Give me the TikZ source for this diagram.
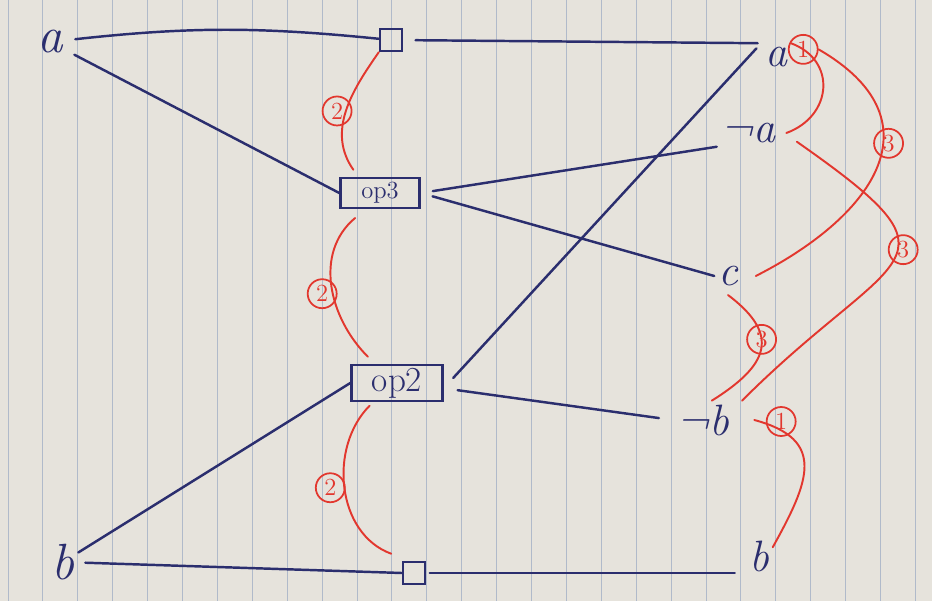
\documentclass[tikz,border=0pt]{standalone}
\definecolor{ink}{HTML}{2B2E6E}
\definecolor{redpen}{HTML}{E2372E}
\definecolor{paper}{HTML}{E6E3DC}
\definecolor{rulecol}{HTML}{B0BACA}
\begin{document}
\begin{tikzpicture}[x=0.02cm,y=0.02cm,wire/.style={ink,line width=1.4pt,line cap=round},pairarc/.style={redpen,line width=1.1pt,line cap=round},lbl/.style={text=ink,font=\fontsize{25}{25}\selectfont\itshape,inner sep=2pt},biglbl/.style={lbl,font=\fontsize{29}{29}\selectfont\itshape},opbox/.style={draw=ink,line width=1.4pt,inner sep=1pt,text=ink},smallsq/.style={draw=ink,line width=1.4pt,minimum size=0.44cm,inner sep=0pt},num/.style={circle,draw=redpen,text=redpen,line width=1pt,inner sep=0pt,minimum size=0.58cm,font=\fontsize{14}{14}\selectfont}]
\useasboundingbox (0,0) rectangle (932,601); \fill[paper] (0,0) rectangle (932,601);
\foreach \k in {0,...,26} \draw[rulecol,line width=0.5pt] ({8+34.9*\k},0) -- ({8+34.9*\k},601);
\node[biglbl] (aL) at (50,559) {a}; \node[biglbl] (bL) at (63,39) {b};
\node[smallsq] (sqT) at (391,561) {}; \node[smallsq] (sqB) at (414,28) {};
\node[opbox,minimum width=1.58cm,minimum height=0.6cm,font=\fontsize{14}{14}\selectfont] (op3) at (380,408) {op3};
\node[opbox,minimum width=1.82cm,minimum height=0.72cm,font=\fontsize{20}{20}\selectfont] (op2) at (397,218) {op2};
\node[lbl] (aR) at (776,544) {a}; \node[lbl] (naR) at (748,468) {¬a}; \node[lbl] (cR) at (728,325) {c}; \node[lbl] (nbR) at (703,181) {¬b}; \node[lbl] (bR) at (759,45) {b};
\draw[wire,shorten <=5pt] (aL) to[bend left=6] (sqT); \draw[wire,shorten <=5pt] (aL) -- (op3.west);
\draw[wire,shorten <=7pt,shorten >=2pt] (sqT) -- (aR.north west);
\draw[wire,shorten <=7pt] (op3.east) -- (naR.south west); \draw[wire,shorten <=7pt] (op3.east) -- (cR.west);
\draw[wire,shorten <=8pt,shorten >=4pt] ([yshift=-3pt]op2.east) -- (aR.north west); \draw[wire,shorten <=8pt,shorten >=8pt] ([yshift=-3pt]op2.east) -- (nbR.west);
\draw[wire] (op2.west) -- (bL); \draw[wire,shorten <=4pt] (bL) -- (sqB.west); \draw[wire,shorten <=2pt,shorten >=6pt] (sqB.east) -- (sqB.east -| bR.west);
\draw[pairarc] (sqT.south west) to[out=235,in=125] node[num,pos=.5,xshift=-5pt] {2} ([shift={(8pt,4pt)}]op3.north west);
\draw[pairarc] ([shift={(9pt,-5pt)}]op3.south west) to[out=220,in=135] node[num,pos=.55,xshift=-6pt] {2} ([shift={(10pt,4pt)}]op2.north west);
\draw[pairarc] ([shift={(11pt,-2pt)}]op2.south west) to[out=225,in=160] node[num,pos=.5,xshift=-8pt] {2} ([shift={(-6pt,4pt)}]sqB.north west);
\draw[pairarc] (aR.north east) to[out=-20,in=20,looseness=1.4] node[num,pos=.1] (one) {1} ([xshift=4pt]naR.east);
\draw[pairarc] (one.east) to[out=-30,in=27,looseness=1.5] node[num,pos=.41,xshift=3pt] {3} ([xshift=8pt]cR.east);
\draw[pairarc] ([shift={(10pt,-5pt)}]naR.east) to[out=-35,in=45,looseness=2.1] node[num,pos=.44,xshift=3pt] {3} ([xshift=5pt]nbR.north east);
\draw[pairarc] ([yshift=-3pt]cR.south) to[out=-37,in=32,looseness=1.6] node[num,pos=.4] {3} ([xshift=5pt]nbR.north);
\draw[pairarc] ([xshift=12pt]nbR.east) to[out=-15,in=61,looseness=1.5] node[num,pos=.15,yshift=5pt] {1} ([yshift=-6pt]bR.north east);
\end{tikzpicture}
\end{document}
